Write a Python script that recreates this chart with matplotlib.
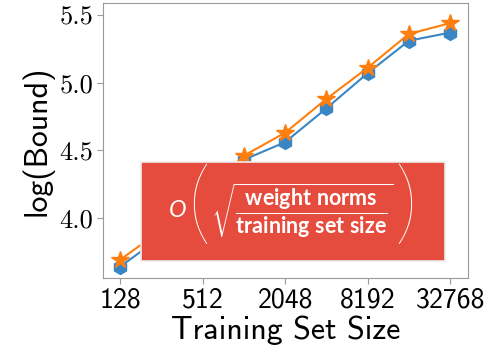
import numpy as np
import matplotlib.pyplot as plt
from matplotlib.patches import FancyBboxPatch

plt.rcParams['mathtext.sf'] = 'Lato:bold'
plt.rcParams['mathtext.it'] = 'Lato:italic'
plt.rcParams['mathtext.rm'] = 'Lato'

# training set sizes and log bounds
sizes = [128, 256, 512, 1024, 2048, 4096, 8192, 16384, 32768]
bound_a = [3.64, 3.86, 4.12, 4.43, 4.56, 4.81, 5.07, 5.31, 5.37]
bound_b = [3.69, 3.91, 4.17, 4.46, 4.63, 4.88, 5.11, 5.36, 5.44]
xticks = [128, 512, 2048, 8192, 32768]
yticks = [4.0, 4.5, 5.0, 5.5]

fig = plt.figure(figsize=(4.91, 3.54), dpi=100)
ax = fig.add_axes([0.21, 0.215, 0.743, 0.777])

ax.plot(sizes, bound_a, color='#3a86c4', marker='h', markersize=10, lw=1.5)
ax.plot(sizes, bound_b, color='#ff7f0e', marker='*', markersize=13, lw=1.5)

ax.set_xscale('log', base=2)
ax.set_xlim(2 ** 6.59, 2 ** 15.43)
ax.set_ylim(3.557, 5.59)
ax.set_xticks(xticks)
ax.set_xticklabels([str(t) for t in xticks], fontsize=20, family='cmss10')
ax.minorticks_off()
ax.set_yticks(yticks)
ax.set_yticklabels(['%.1f' % t for t in yticks], fontsize=19, family='cmr10')
ax.set_xlabel('Training Set Size', fontsize=23, labelpad=2, family='cmss10')
ax.set_ylabel('log(Bound)', fontsize=23, labelpad=4, family='cmss10')

for s in ax.spines.values():
    s.set_color('#999999')
ax.tick_params(color='#999999', length=4, pad=3)

# red formula banner over the lower part of the plot
box = FancyBboxPatch((0.103, 0.063), 0.835, 0.36, boxstyle='square,pad=0',
                     transform=ax.transAxes, facecolor='#e64c3d', edgecolor='#eeeeee',
                     lw=1.2, zorder=5)
ax.add_patch(box)
txt = dict(transform=ax.transAxes, color='white', va='center', ha='center', zorder=6)
ax.text(0.205, 0.245, 'O', fontsize=17, family='Lato', style='italic', **txt)
ax.text(0.262, 0.255, '(', fontsize=66, family='Lato', weight='light', **txt)
ax.text(0.830, 0.255, ')', fontsize=66, family='Lato', weight='light', **txt)
ax.text(0.546, 0.243,
        r'$\sqrt{\dfrac{\mathsf{weight\ norms}}{\mathsf{training\ set\ size}}}$',
        fontsize=15.5, math_fontfamily='custom', **txt)

fig.savefig('out.png', dpi=100)
